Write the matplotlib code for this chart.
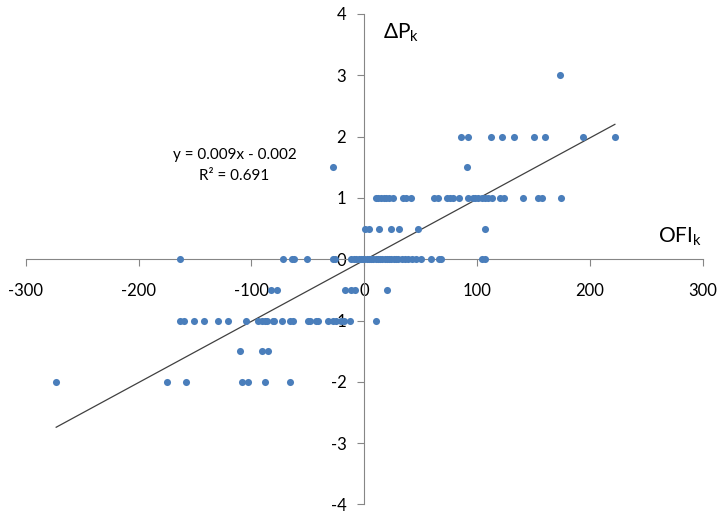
import numpy as np
import matplotlib.pyplot as plt

plt.rcParams["font.family"] = ["Lato", "DejaVu Sans"]
plt.rcParams["mathtext.fontset"] = "custom"
plt.rcParams["mathtext.rm"] = "Lato"
plt.rcParams["axes.unicode_minus"] = False

# order flow imbalance vs price change, one row per price level
ofi_3 = [173]
ofi_2 = [86, 92, 112, 122, 133, 150, 160, 194, 222]
ofi_15 = [-28, 91]
ofi_1 = [10, 12, 15, 17, 19, 22, 25, 34, 37, 41, 62, 65, 73, 76, 79, 84,
         92, 96, 98, 101, 104, 107, 110, 113, 120, 124, 141, 154, 157, 174]
ofi_05 = [1, 4, 13, 24, 31, 48, 107]
ofi_0 = [-163, -72, -64, -62, -51, -28, -26, -12, -9, -7, -5, -3, -1, 0,
         2, 4, 6, 8, 10, 12, 14, 16, 18, 20, 22, 24, 26, 28, 30, 33, 36,
         39, 42, 46, 50, 59, 66, 68, 104, 107]
ofi_m05 = [-83, -77, -17, -12, -8, 20]
ofi_m1 = [-163, -160, -151, -142, -130, -121, -105, -94, -91, -88, -86,
          -81, -80, -73, -66, -63, -50, -48, -43, -41, -32, -28, -25, -21,
          -18, -13, 10]
ofi_m15 = [-110, -91, -85]
ofi_m2 = [-273, -175, -158, -108, -103, -88, -66]

rows = [(3, ofi_3), (2, ofi_2), (1.5, ofi_15), (1, ofi_1), (0.5, ofi_05),
        (0, ofi_0), (-0.5, ofi_m05), (-1, ofi_m1), (-1.5, ofi_m15),
        (-2, ofi_m2)]

# trend line as drawn (end points)
trend_x = [-273, 222]
trend_y = [-2.74, 2.20]

x = np.concatenate([np.array(v, dtype=float) for _, v in rows])
y = np.concatenate([np.full(len(v), dp) for dp, v in rows])

fig = plt.figure(figsize=(7.18, 5.14), dpi=100)
ax = fig.add_axes([0.0358, 0.0185, 0.9432, 0.9543])

ax.scatter(x, y, s=26, color="#4A7EBB", zorder=3, linewidths=0)
ax.plot(trend_x, trend_y, color="#404040", linewidth=0.9, zorder=2)

ax.set_xlim(-300, 300)
ax.set_ylim(-4, 4)
ax.set_xticks(range(-300, 301, 100))
ax.set_yticks(range(-4, 5))

axis_col = "#868686"
for s in ["left", "bottom"]:
    ax.spines[s].set_position(("data", 0))
    ax.spines[s].set_color(axis_col)
ax.spines["top"].set_visible(False)
ax.spines["right"].set_visible(False)
ax.tick_params(axis="x", direction="out", length=5, color=axis_col,
               labelsize=12, pad=12)
ax.tick_params(axis="y", direction="out", length=5, color=axis_col,
               labelsize=12, pad=8)

ax.text(33, 3.69, r"ΔP$_{\mathrm{k}}$", fontsize=15, ha="center", va="center")
ax.text(280, 0.36, r"OFI$_{\mathrm{k}}$", fontsize=15, ha="center", va="center")
ax.text(-115, 1.70, "y = 0.009x - 0.002", fontsize=11, ha="center", va="center")
ax.text(-115, 1.35, "R² = 0.691", fontsize=11, ha="center", va="center")

fig.savefig("out.png", dpi=100)
